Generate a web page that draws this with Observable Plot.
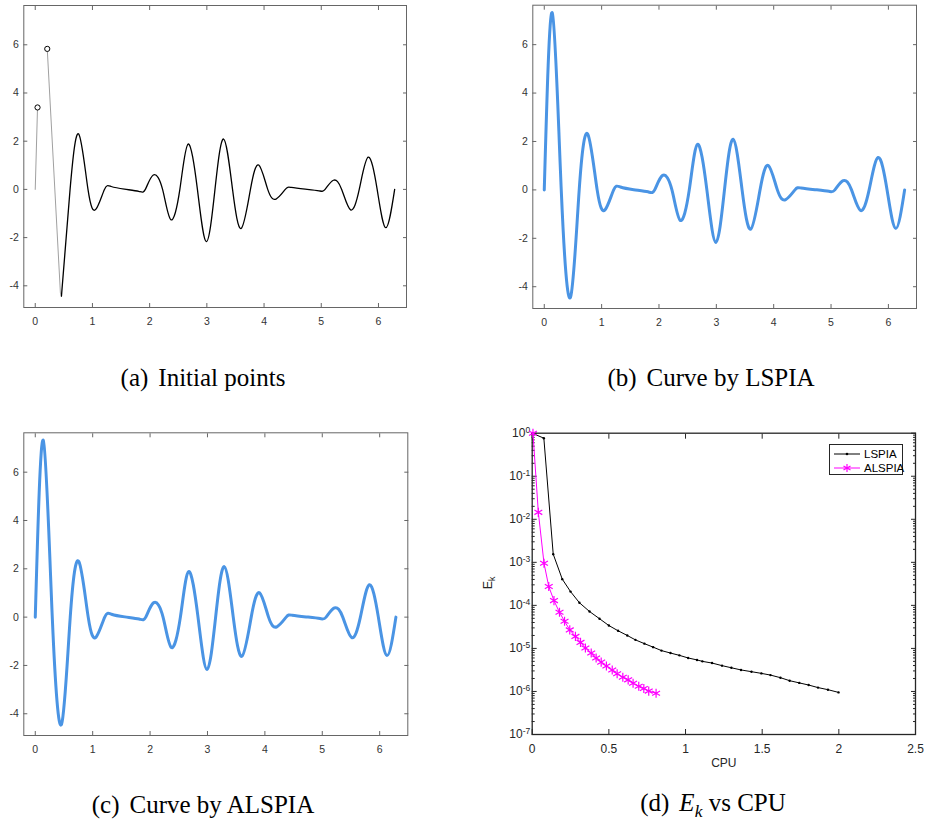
<!DOCTYPE html>
<html>
<head>
<meta charset="utf-8">
<script src="https://cdn.jsdelivr.net/npm/d3@7"></script>
<script src="https://cdn.jsdelivr.net/npm/@observablehq/plot@0.6"></script>
<style>
  html, body { margin: 0; padding: 0; background: #fff; }
  body { width: 925px; height: 824px; position: relative; overflow: hidden; }
  .panel { position: absolute; }
  .cap { position: absolute; font-family: "Liberation Serif", "Times New Roman", serif; font-size: 25px; color: #000; transform: translate(-50%, -50%); white-space: nowrap; }
  .cap .gap { display: inline-block; width: 10px; }
  #legend { position: absolute; left: 829px; top: 444px; width: 74px; height: 31px; border: 1px solid #262626; background: #fff; font-family: "Liberation Sans", Arial, sans-serif; font-size: 11.5px; color: #000; box-sizing: border-box; }
  #legend .row { position: absolute; left: 3px; height: 14px; display: flex; align-items: center; }
  #legend svg { display: block; margin-right: 3px; }
  #ylab { position: absolute; left: 489px; top: 583px; transform: translate(-50%, -50%) rotate(-90deg); font-family: "Liberation Sans", Arial, sans-serif; font-size: 12.5px; color: #262626; white-space: nowrap; }
  #ylab sub { font-size: 0.7em; }
</style>
</head>
<body>
<div id="pa" class="panel" style="left:0;top:0"></div>
<div id="pb" class="panel" style="left:470px;top:0"></div>
<div id="pc" class="panel" style="left:0;top:420px"></div>
<div id="pd" class="panel" style="left:470px;top:420px"></div>

<div class="cap" style="left:203px;top:378px">(a)<span class="gap"></span>Initial points</div>
<div class="cap" style="left:711px;top:378px">(b)<span class="gap"></span>Curve by LSPIA</div>
<div class="cap" style="left:203px;top:805px">(c)<span class="gap"></span>Curve by ALSPIA</div>
<div class="cap" style="left:713px;top:805px">(d)<span class="gap"></span><i>E</i><sub style="font-size:0.7em"><i>k</i></sub> vs CPU</div>

<div id="ylab">E<sub>k</sub></div>

<div id="legend">
  <div class="row" style="top:1.5px">
    <svg width="28" height="14"><line x1="1" y1="7" x2="27" y2="7" stroke="#000" stroke-width="1"/><circle cx="14" cy="7" r="1.3" fill="#000"/></svg>
    <span>LSPIA</span>
  </div>
  <div class="row" style="top:15.5px">
    <svg width="28" height="14"><line x1="1" y1="7" x2="27" y2="7" stroke="#ff00ff" stroke-width="1"/>
      <g stroke="#ff00ff" stroke-width="1.2"><line x1="14" y1="3" x2="14" y2="11"/><line x1="10.5" y1="5" x2="17.5" y2="9"/><line x1="10.5" y1="9" x2="17.5" y2="5"/></g></svg>
    <span>ALSPIA</span>
  </div>
</div>

<script>
// ---------- Data: curve panels (a), (b), (c) ----------
const xTicks = [0, 1, 2, 3, 4, 5, 6];
const xTickLabels = ["0", "1", "2", "3", "4", "5", "6"];
const yTicks = [-4, -2, 0, 2, 4, 6];
const yTickLabels = ["-4", "-2", "0", "2", "4", "6"];

// points (extrema and zero crossings)
const curveX = [0, 0.139, 0.296, 0.458, 0.609, 0.759, 0.922, 1.061, 1.21, 1.328, 1.56, 1.809, 1.925, 2.064, 2.226, 2.371, 2.528, 2.672, 2.835, 2.991, 3.142, 3.293, 3.449, 3.6, 3.762, 3.907, 4.064, 4.209, 4.371, 4.475, 4.72, 4.962, 5.067, 5.212, 5.357, 5.513, 5.664, 5.82, 5.977, 6.128, 6.283];
const curveY = [0, 7.32, 0, -4.43, 0, 2.30, 0, -0.82, 0, 0.12, 0.01, -0.08, 0, 0.60, 0, -1.26, 0, 1.88, 0, -2.17, 0, 2.09, 0, -1.62, 0, 1.01, 0, -0.40, 0, 0.08, 0.01, -0.06, 0, 0.38, 0, -0.85, 0, 1.34, 0, -1.59, 0];

// panel (a): sparse initial part
const headX = [0, 0.04];
const headY = [0, 3.4];
const head2X = [0.21, 0.44, 0.458];
const head2Y = [5.83, -4.3, -4.43];
const markX = [0.04, 0.21];
const markY = [3.4, 5.83];

// ---------- Data: panel (d) ----------
const cpuTicks = [0, 0.5, 1, 1.5, 2, 2.5];
const cpuTickLabels = ["0", "0.5", "1", "1.5", "2", "2.5"];
const ekTicks = [1, 1e-1, 1e-2, 1e-3, 1e-4, 1e-5, 1e-6, 1e-7];
const ekExponents = ["0", "-1", "-2", "-3", "-4", "-5", "-6", "-7"];

const lspiaCPU = [0, 0.076, 0.137, 0.196, 0.250, 0.308, 0.374, 0.439, 0.500, 0.560, 0.620, 0.673, 0.732, 0.789, 0.843, 0.902, 0.960, 1.017, 1.075, 1.110, 1.173, 1.238, 1.299, 1.362, 1.430, 1.495, 1.554, 1.619, 1.679, 1.742, 1.803, 1.864, 1.929, 1.998];
const lspiaE = [1, 0.766, 1.55e-3, 4.07e-4, 2.09e-4, 1.15e-4, 7.2e-5, 4.9e-5, 3.4e-5, 2.57e-5, 2.0e-5, 1.58e-5, 1.29e-5, 1.07e-5, 8.9e-6, 7.8e-6, 6.9e-6, 6.0e-6, 5.4e-6, 5.0e-6, 4.57e-6, 3.98e-6, 3.55e-6, 3.16e-6, 2.88e-6, 2.63e-6, 2.40e-6, 2.09e-6, 1.78e-6, 1.58e-6, 1.41e-6, 1.23e-6, 1.10e-6, 9.5e-7];

const alspiaCPU = [0.005, 0.040, 0.077, 0.108, 0.142, 0.178, 0.211, 0.245, 0.282, 0.315, 0.347, 0.385, 0.417, 0.450, 0.484, 0.522, 0.554, 0.591, 0.626, 0.658, 0.695, 0.728, 0.760, 0.808];
const alspiaE = [1, 1.45e-2, 9.5e-4, 2.75e-4, 1.29e-4, 6.9e-5, 4.27e-5, 2.69e-5, 1.9e-5, 1.38e-5, 1.02e-5, 7.8e-6, 6.0e-6, 4.8e-6, 3.9e-6, 3.16e-6, 2.57e-6, 2.14e-6, 1.86e-6, 1.55e-6, 1.32e-6, 1.17e-6, 1.02e-6, 9.1e-7];

// ---------- Build tables ----------
const curve = curveX.map((x, i) => ({x, y: curveY[i]}));
const head = headX.map((x, i) => ({x, y: headY[i]}));
const head2 = head2X.map((x, i) => ({x, y: head2Y[i]}));
const marks0 = markX.map((x, i) => ({x, y: markY[i]}));
const lspia = lspiaCPU.map((x, i) => ({x, y: lspiaE[i]}));
const alspia = alspiaCPU.map((x, i) => ({x, y: alspiaE[i]}));

const FRAME = "#666";
const TXT = "#333";
const sans = "'Liberation Sans', Arial, Helvetica, sans-serif";

function curveAxes() {
  return [
    Plot.frame({stroke: FRAME, strokeWidth: 1}),
    Plot.axisX(xTicks, {anchor: "bottom", tickSize: -4, tickPadding: 14, label: null, stroke: FRAME, fill: TXT,
      tickFormat: d => xTickLabels[xTicks.indexOf(d)]}),
    Plot.axisX(xTicks, {anchor: "top", tickSize: -4, label: null, stroke: FRAME, fill: "none"}),
    Plot.axisY(yTicks, {anchor: "left", tickSize: -4, tickPadding: 9, label: null, stroke: FRAME, fill: TXT,
      tickFormat: d => yTickLabels[yTicks.indexOf(d)]}),
    Plot.axisY(yTicks, {anchor: "right", tickSize: -4, label: null, stroke: FRAME, fill: "none"})
  ];
}

function curvePlot(size, extraMarks) {
  return Plot.plot({
    width: size.width, height: size.height,
    marginLeft: size.ml, marginRight: size.mr, marginTop: size.mt, marginBottom: size.mb,
    style: {fontFamily: sans, fontSize: "10.5px", background: "transparent", overflow: "visible"},
    x: {domain: [-0.2, 6.49]},
    y: {domain: [-4.9, 7.63]},
    marks: [...curveAxes(), ...extraMarks]
  });
}

const BLUE = "#4a94e4";

// Panel (a)
document.getElementById("pa").append(curvePlot(
  {width: 425, height: 340, ml: 23.3, mr: 19, mt: 5, mb: 33},
  [
    Plot.line(head, {x: "x", y: "y", stroke: "#a0a0a0", strokeWidth: 1}),
    Plot.line(head2, {x: "x", y: "y", stroke: "#a0a0a0", strokeWidth: 1}),
    Plot.line(curve.filter(d => d.x >= 0.458), {x: "x", y: "y", stroke: "#000", strokeWidth: 1.3, curve: "natural"}),
    Plot.dot(marks0, {x: "x", y: "y", r: 2.6, stroke: "#000", fill: "#fff", strokeWidth: 1})
  ]
));

// Panel (b)
document.getElementById("pb").append(curvePlot(
  {width: 455, height: 340, ml: 62.3, mr: 9, mt: 4.7, mb: 32},
  [Plot.line(curve, {x: "x", y: "y", stroke: BLUE, strokeWidth: 3, curve: "natural"})]
));

// Panel (c)
document.getElementById("pc").append(curvePlot(
  {width: 425, height: 340, ml: 23.3, mr: 17.7, mt: 12.3, mb: 25},
  [Plot.line(curve, {x: "x", y: "y", stroke: BLUE, strokeWidth: 3, curve: "natural"})]
));

// Panel (d)
const minorTicks = d3.scaleLog().domain([1e-7, 1]).ticks()
  .filter(t => !ekTicks.some(e => Math.abs(t / e - 1) < 1e-9));
const DFR = "#262626";
const pd = Plot.plot({
  width: 455, height: 360,
  marginLeft: 61.7, marginRight: 10, marginTop: 12.7, marginBottom: 46,
  style: {fontFamily: sans, fontSize: "12px", background: "transparent", overflow: "visible"},
  x: {domain: [0, 2.5]},
  y: {type: "log", domain: [1e-7, 1]},
  marks: [
    Plot.axisX(cpuTicks, {anchor: "bottom", tickSize: -5, tickPadding: 14.5, label: null, stroke: DFR, fill: DFR,
      tickFormat: d => cpuTickLabels[cpuTicks.indexOf(d)]}),
    Plot.axisX(cpuTicks, {anchor: "top", tickSize: -5, label: null, stroke: DFR, fill: "none"}),
    Plot.axisY(ekTicks, {anchor: "left", tickSize: -5, tickPadding: 7, label: null, stroke: DFR, fill: DFR,
      tickFormat: d => ekExponents[ekTicks.indexOf(d)]}),
    Plot.axisY(minorTicks, {anchor: "left", tickSize: -3, label: null, stroke: DFR, fill: "none"}),
    Plot.axisY(ekTicks, {anchor: "right", tickSize: -5, label: null, stroke: DFR, fill: "none"}),
    Plot.axisY(minorTicks, {anchor: "right", tickSize: -3, label: null, stroke: DFR, fill: "none"}),
    Plot.frame({stroke: DFR, strokeWidth: 1.3}),
    Plot.line(lspia, {x: "x", y: "y", stroke: "#000", strokeWidth: 1}),
    Plot.dot(lspia, {x: "x", y: "y", r: 1.2, fill: "#000"}),
    Plot.line(alspia, {x: "x", y: "y", stroke: "#ff00ff", strokeWidth: 1}),
    Plot.dot(alspia, {x: "x", y: "y", r: 4.3, symbol: "asterisk", stroke: "#ff00ff", strokeWidth: 1.2}),
    Plot.text(["CPU"], {text: d => d, frameAnchor: "bottom", dy: 32, fill: DFR, fontSize: 12})
  ]
});
// superscript exponents for log tick labels
const NS = "http://www.w3.org/2000/svg";
pd.querySelectorAll('g[aria-label="y-axis tick label"] text').forEach(t => {
  const e = t.textContent;
  t.textContent = "";
  const b = document.createElementNS(NS, "tspan");
  b.textContent = "10";
  const s = document.createElementNS(NS, "tspan");
  s.setAttribute("dy", "-0.5em");
  s.setAttribute("font-size", "8.5px");
  s.textContent = e;
  t.append(b, s);
});
document.getElementById("pd").append(pd);
</script>
</body>
</html>
